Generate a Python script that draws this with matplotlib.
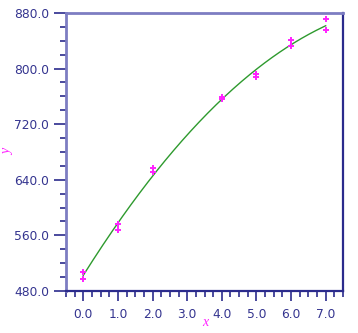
import numpy as np
import matplotlib
matplotlib.use("Agg")
import matplotlib.pyplot as plt
from matplotlib.ticker import MultipleLocator, FormatStrFormatter

# measured responses, two readings per setting
x_vals = [0, 0, 1, 1, 2, 2, 4, 4, 5, 5, 6, 6, 7, 7]
y_vals = [507.4, 497.9, 576.6, 568.0, 656.5, 651.6, 759.3, 756.0,
          792.5, 787.7, 841.5, 831.8, 871.8, 854.9]

x_ticks = [0.0, 1.0, 2.0, 3.0, 4.0, 5.0, 6.0, 7.0]
y_ticks = [480.0, 560.0, 640.0, 720.0, 800.0, 880.0]

navy = "#2b2b8c"
lilac = "#7d7dc2"
label_col = "#34348f"
pink = "#ff22ff"

fig = plt.figure(figsize=(3.58, 3.33), dpi=100)
ax = fig.add_axes([66 / 358, 1 - 291 / 333, 277 / 358, 278 / 333])

# quadratic least-squares fit
coef = np.polyfit(x_vals, y_vals, 2)
xf = np.linspace(0, 7, 200)
ax.plot(xf, np.polyval(coef, xf), color="#2e9a2e", lw=1.0, zorder=2)

ax.plot(x_vals, y_vals, ls="none", marker="+", ms=5, mew=1.4,
        color=pink, zorder=3)

ax.set_xlim(-0.5, 7.5)
ax.set_ylim(480, 880)
ax.set_xticks(x_ticks)
ax.set_yticks(y_ticks)
ax.xaxis.set_minor_locator(MultipleLocator(0.25))
ax.yaxis.set_minor_locator(MultipleLocator(20))
ax.xaxis.set_major_formatter(FormatStrFormatter("%.1f"))
ax.yaxis.set_major_formatter(FormatStrFormatter("%.1f"))

ax.tick_params(axis="x", which="major", direction="out", length=7, width=1.2,
               color=navy, labelcolor=label_col, labelsize=8.8, pad=5)
ax.tick_params(axis="x", which="minor", direction="out", length=4, width=1.2,
               color=navy)
ax.tick_params(axis="y", which="major", direction="out", length=9, width=1.2,
               color=navy, labelcolor=label_col, labelsize=8.8, pad=3)
ax.tick_params(axis="y", which="minor", direction="out", length=4.5, width=1.2,
               color=navy)

for side in ["left", "top"]:
    ax.spines[side].set_color(lilac)
    ax.spines[side].set_linewidth(2.0)
for side in ["bottom", "right"]:
    ax.spines[side].set_color(navy)
    ax.spines[side].set_linewidth(1.6)

# axis titles
fig.text(205 / 358, 1 - 323 / 333, "x", family="Liberation Serif",
         style="italic", color=pink, fontsize=10, ha="center", va="center")
fig.text(8 / 358, 1 - 152 / 333, "y", family="Liberation Serif",
         style="italic", color=pink, fontsize=10, ha="center", va="center",
         rotation=90)

fig.savefig("out.png", dpi=100)
